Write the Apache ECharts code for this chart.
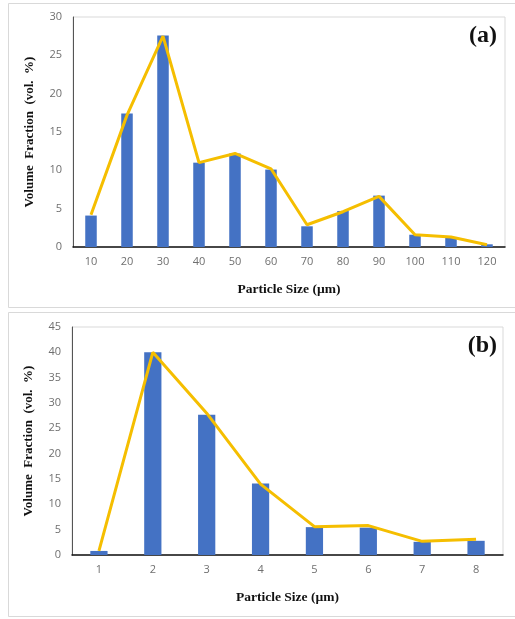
<!DOCTYPE html>
<html>
<head>
<meta charset="utf-8">
<script src="https://cdn.jsdelivr.net/npm/echarts@6/dist/echarts.min.js"></script>
<style>
    html, body { margin: 0; padding: 0; background: #fff; }
    #chart { width: 515px; height: 619px; }
</style>
</head>
<body>
<div id="chart"></div>
<script>
// panel (a)
var sizesA = ['10', '20', '30', '40', '50', '60', '70', '80', '90', '100', '110', '120'];
var barsA = [4.1, 17.4, 27.6, 11.0, 12.2, 10.1, 2.7, 4.7, 6.7, 1.6, 1.2, 0.35];
var lineA = [4.2, 17.2, 27.5, 11.0, 12.2, 10.2, 2.9, 4.6, 6.6, 1.6, 1.3, 0.3];
// panel (b)
var sizesB = ['1', '2', '3', '4', '5', '6', '7', '8'];
var barsB = [0.8, 40.0, 27.7, 14.1, 5.5, 5.4, 2.6, 2.8];
var lineB = [0.8, 40.0, 28.0, 14.0, 5.6, 5.8, 2.7, 3.1];

var blue = '#4472C4';
var gold = '#F5BE00';
var serif = '"Liberation Serif", "DejaVu Serif", serif';
var sans = '"Open Sans", "Liberation Sans", sans-serif';

function xAxisOf(idx, cats) {
    return {
        gridIndex: idx,
        type: 'category',
        data: cats,
        name: 'Particle Size (µm)',
        nameLocation: 'middle',
        nameGap: 36,
        nameTextStyle: {fontFamily: serif, fontWeight: 'bold', fontSize: 13.5, color: '#111'},
        axisLine: {lineStyle: {color: '#111', width: 1.5}},
        axisTick: {show: false},
        axisLabel: {color: '#6f6f6f', fontFamily: sans, fontSize: 11, margin: 9}
    };
}

function yAxisOf(idx, max) {
    return {
        gridIndex: idx,
        type: 'value',
        min: 0,
        max: max,
        interval: 5,
        name: 'Volume  Fraction  (vol.  %)',
        nameLocation: 'middle',
        nameGap: 37,
        nameTextStyle: {fontFamily: serif, fontWeight: 'bold', fontSize: 13, color: '#111'},
        axisLine: {show: true, lineStyle: {color: '#555', width: 1}},
        axisTick: {show: false},
        splitLine: {show: false},
        axisLabel: {color: '#6f6f6f', fontFamily: sans, fontSize: 11, margin: 11}
    };
}

function barOf(idx, data) {
    return {
        type: 'bar', xAxisIndex: idx, yAxisIndex: idx,
        data: data, barWidth: '32%',
        itemStyle: {color: blue}
    };
}

function lineOf(idx, data) {
    return {
        type: 'line', xAxisIndex: idx, yAxisIndex: idx,
        data: data, symbol: 'none', z: 5,
        lineStyle: {color: gold, width: 3}
    };
}

var myChart = echarts.init(document.getElementById('chart'));
var option = {
    animation: false,
    backgroundColor: '#fff',
    graphic: [
        {type: 'rect', shape: {x: 8.5, y: 3.5, width: 520, height: 304}, style: {fill: 'none', stroke: '#d9d9d9', lineWidth: 1}},
        {type: 'rect', shape: {x: 8.5, y: 312.5, width: 520, height: 304}, style: {fill: 'none', stroke: '#d9d9d9', lineWidth: 1}},
        {type: 'text', right: 18, top: 24, style: {text: '(a)', font: 'bold 24px ' + serif, fill: '#111'}},
        {type: 'text', right: 18, top: 334, style: {text: '(b)', font: 'bold 24px ' + serif, fill: '#111'}}
    ],
    grid: [
        {left: 73, top: 17, right: 10, bottom: 372, show: true, borderColor: '#d9d9d9', borderWidth: 1},
        {left: 72, top: 327, right: 12, bottom: 64, show: true, borderColor: '#d9d9d9', borderWidth: 1}
    ],
    xAxis: [xAxisOf(0, sizesA), xAxisOf(1, sizesB)],
    yAxis: [yAxisOf(0, 30), yAxisOf(1, 45)],
    series: [barOf(0, barsA), lineOf(0, lineA), barOf(1, barsB), lineOf(1, lineB)]
};
myChart.setOption(option);
</script>
</body>
</html>
